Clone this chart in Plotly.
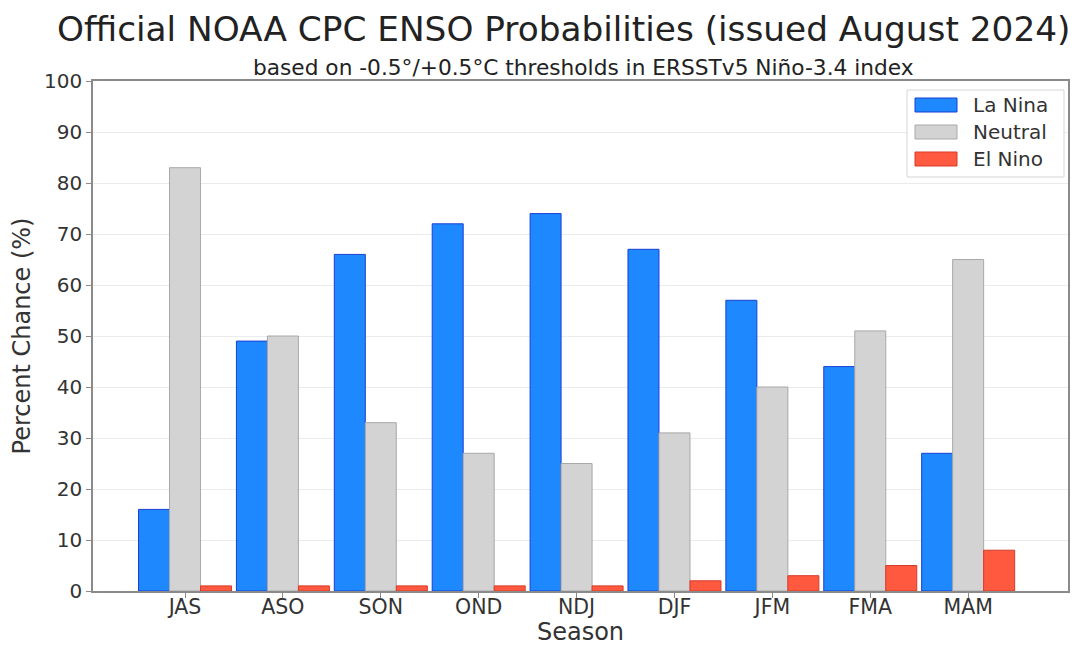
import plotly.graph_objects as go

seasons = ["JAS", "ASO", "SON", "OND", "NDJ", "DJF", "JFM", "FMA", "MAM"]
la_nina = [16, 49, 66, 72, 74, 67, 57, 44, 27]
neutral = [83, 50, 33, 27, 25, 31, 40, 51, 65]
el_nino = [1, 1, 1, 1, 1, 2, 3, 5, 8]
y_ticks = [0, 10, 20, 30, 40, 50, 60, 70, 80, 90, 100]

series_names = ["La Nina", "Neutral", "El Nino"]
series_values = [la_nina, neutral, el_nino]
fill_colors = ["#1E88FF", "#D3D3D3", "#FF5A3F"]
edge_colors = ["#1a3fd6", "#a8a8a8", "#d63a2a"]

FONT = "DejaVu Sans"
TXT = "#333333"

# The page body has an 8px margin, so the figure starts at (8, 8) in the window.
OFF = 8
W, H = 1081 - OFF, 646 - OFF
# plot area in window pixels: x 93..1068, y 81..591
L = 93 - OFF
T = 81 - OFF
R = W - (1068 - OFF)
B = H - (591 - OFF)
PW, PH = W - L - R, H - T - B


def px_x(px):
    return (px - OFF - L) / PW


def px_y(py):
    return (H - B - (py - OFF)) / PH


fig = go.Figure()
for name, vals, fc, ec in zip(series_names, series_values, fill_colors, edge_colors):
    fig.add_trace(go.Bar(x=seasons, y=vals, name=name, showlegend=False,
                         marker=dict(color=fc, line=dict(color=ec, width=1))))

fig.update_layout(
    width=W, height=H,
    margin=dict(l=L, r=R, t=T, b=B, autoexpand=False),
    paper_bgcolor="white", plot_bgcolor="white",
    barmode="group", bargap=0.05, bargroupgap=0,
    font=dict(family=FONT, color=TXT),
    showlegend=False,
)
fig.update_xaxes(
    range=[-0.94, 9.02], automargin=False,
    showline=True, linecolor="#8a8a8a", linewidth=1.5, mirror=True,
    ticks="outside", ticklen=5, tickcolor="#8a8a8a", ticklabelstandoff=-8,
    tickfont=dict(size=20.5, family=FONT, color=TXT),
    title=dict(text="Season", font=dict(size=24, family=FONT, color=TXT), standoff=9),
    showgrid=False,
)
fig.update_yaxes(
    range=[0, 100], tickvals=y_ticks, automargin=False,
    showline=True, linecolor="#8a8a8a", linewidth=1.5, mirror=True,
    ticks="outside", ticklen=5, tickcolor="#8a8a8a",
    tickfont=dict(size=20, family=FONT, color=TXT),
    title=dict(text="Percent Chance (%)", font=dict(size=24, family=FONT, color=TXT), standoff=8),
    showgrid=True, gridcolor="#ebebeb", gridwidth=1, zeroline=False,
)

# title & subtitle
fig.add_annotation(text="Official NOAA CPC ENSO Probabilities (issued August 2024)",
                   xref="paper", yref="paper", x=px_x(563), y=px_y(29),
                   xanchor="center", yanchor="middle", showarrow=False,
                   font=dict(size=34.3, family=FONT, color="#222222"))
fig.add_annotation(text="based on -0.5°/+0.5°C thresholds in ERSSTv5 Niño-3.4 index",
                   xref="paper", yref="paper", x=px_x(583), y=px_y(67),
                   xanchor="center", yanchor="middle", showarrow=False,
                   font=dict(size=21.7, family=FONT, color="#222222"))

# legend box (matplotlib-style)
fig.add_shape(type="rect", xref="paper", yref="paper",
              x0=px_x(907), x1=px_x(1064), y0=px_y(177), y1=px_y(90),
              fillcolor="rgba(255,255,255,0.9)", line=dict(color="#d6d6d6", width=1))
row_y = [105, 132, 159]
for name, fc, ec, ry in zip(series_names, fill_colors, edge_colors, row_y):
    fig.add_shape(type="rect", xref="paper", yref="paper",
                  x0=px_x(915), x1=px_x(957), y0=px_y(ry + 7), y1=px_y(ry - 7),
                  fillcolor=fc, line=dict(color=ec, width=1))
    fig.add_annotation(text=name, xref="paper", yref="paper",
                       x=px_x(971), y=px_y(ry), xanchor="left", yanchor="middle",
                       showarrow=False, font=dict(size=20, family=FONT, color=TXT))

fig.write_html("out.html")
